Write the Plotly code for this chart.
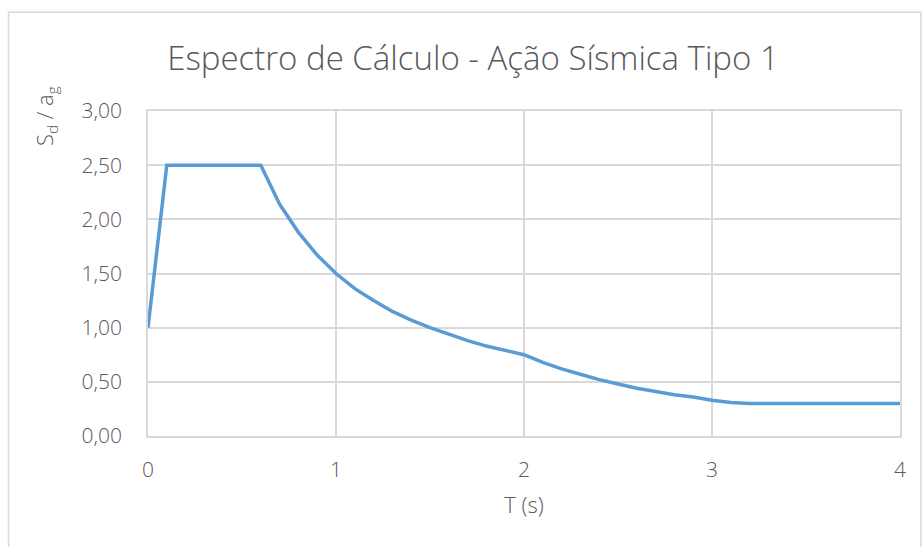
import plotly.graph_objects as go

# Design spectrum (Type 1 seismic action): period T [s] vs normalised ordinate Sd/ag
periodo = [0.0, 0.1, 0.2, 0.3, 0.4, 0.5, 0.6, 0.7, 0.8, 0.9,
           1.0, 1.1, 1.2, 1.3, 1.4, 1.5, 1.6, 1.7, 1.8, 1.9,
           2.0, 2.1, 2.2, 2.3, 2.4, 2.5, 2.6, 2.7, 2.8, 2.9,
           3.0, 3.1, 3.2, 3.3, 3.4, 3.5, 3.6, 3.7, 3.8, 3.9, 4.0]
sd_ag = [1.00, 2.50, 2.50, 2.50, 2.50, 2.50, 2.50, 2.14, 1.88, 1.67,
         1.50, 1.36, 1.25, 1.15, 1.07, 1.00, 0.94, 0.88, 0.83, 0.79,
         0.75, 0.68, 0.62, 0.57, 0.52, 0.48, 0.44, 0.41, 0.38, 0.36,
         0.33, 0.31, 0.30, 0.30, 0.30, 0.30, 0.30, 0.30, 0.30, 0.30, 0.30]

x_ticks = [0, 1, 2, 3, 4]
y_ticks = [0.0, 0.5, 1.0, 1.5, 2.0, 2.5, 3.0]

titulo = "Espectro de Cálculo - Ação Sísmica Tipo 1"
titulo_x = "T (s)"
titulo_y = "S<sub>d</sub> / a<sub>g</sub>"

FONT = "Open Sans"
TXT = "#595959"
GRID = "#d9d9d9"

fig = go.Figure()
fig.add_trace(go.Scatter(
    x=periodo, y=sd_ag, mode="lines",
    line=dict(color="#5b9bd5", width=3.5),
    hoverinfo="x+y", showlegend=False,
))

fig.update_layout(
    width=922, height=547,
    margin=dict(l=148, r=22, t=111, b=111),
    paper_bgcolor="white", plot_bgcolor="white",
    separators=", ",
    font=dict(family=FONT, color=TXT),
    title=dict(text=titulo, x=0.513, xanchor="center", y=0.893, yanchor="middle",
               font=dict(family=FONT, size=33, color=TXT, weight=300)),
    xaxis=dict(
        range=[0, 4], tickvals=x_ticks, ticks="",
        showgrid=True, gridcolor=GRID, gridwidth=1.5,
        showline=True, linecolor=GRID, linewidth=1.5, mirror=True,
        zeroline=False,
        tickfont=dict(family=FONT, size=21, color=TXT, weight=300),
        ticklabelstandoff=14,
        title=dict(text=titulo_x, standoff=16,
                   font=dict(family=FONT, size=22, color=TXT, weight=300)),
    ),
    yaxis=dict(
        range=[0, 3], tickvals=y_ticks, tickformat=".2f", ticks="",
        showgrid=True, gridcolor=GRID, gridwidth=1.5,
        showline=True, linecolor=GRID, linewidth=1.5, mirror=True,
        zeroline=False,
        tickfont=dict(family=FONT, size=21, color=TXT, weight=300),
        ticklabelstandoff=20,
    ),
    annotations=[dict(
        text=titulo_y, textangle=-90, xref="paper", yref="paper",
        x=(46 - 148) / 752, y=(436 - 117) / 324, xanchor="center", yanchor="middle",
        showarrow=False, font=dict(family=FONT, size=22, color=TXT, weight=300),
    )],
    shapes=[dict(
        type="rect", xref="paper", yref="paper",
        x0=(8.5 - 148) / 752, x1=(921 - 148) / 752,
        y0=-0.5, y1=(436 - 13.5) / 324,
        line=dict(color=GRID, width=1.5), fillcolor="rgba(0,0,0,0)", layer="below",
    )],
)

fig.write_html("out.html")
